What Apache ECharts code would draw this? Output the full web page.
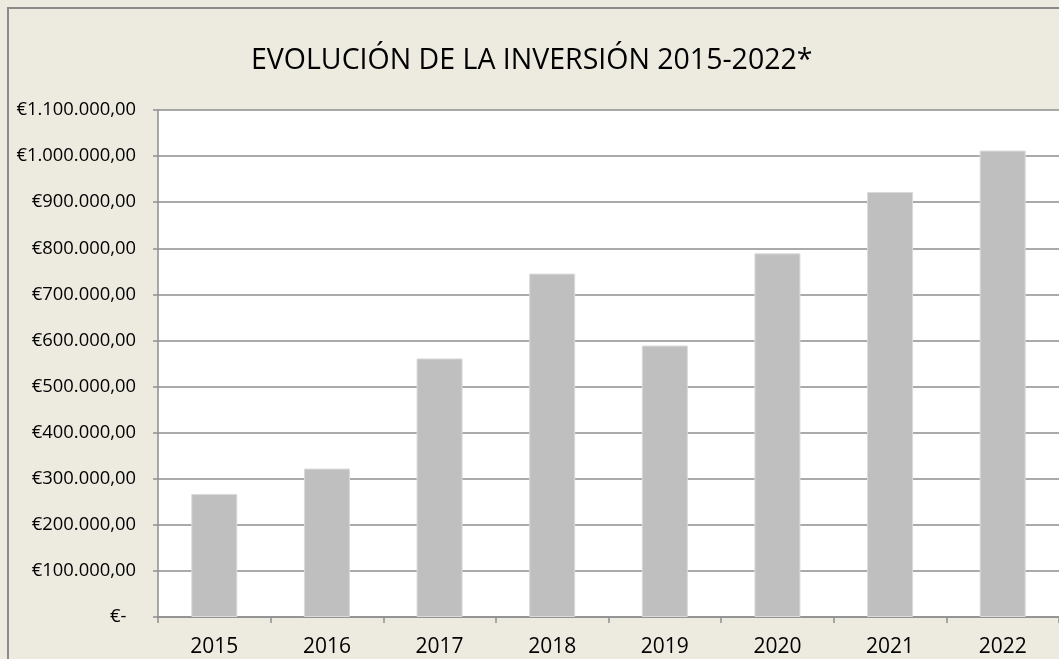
<!DOCTYPE html>
<html>
<head>
<meta charset="utf-8">
<script src="https://cdn.jsdelivr.net/npm/echarts@6/dist/echarts.min.js"></script>
<style>
  html, body { margin: 0; padding: 0; background: #edeae0; }
  #chart { width: 1059px; height: 659px; }
</style>
</head>
<body>
<div id="chart"></div>
<script>
// años y montos de inversión (en euros)
const years = ['2015', '2016', '2017', '2018', '2019', '2020', '2021', '2022']
const investment = [267000, 322000, 561000, 745000, 589000, 789000, 922000, 1012000]

function euro(v) {
  if (v === 0) return '€-  '
  let s = String(v).replace(/\B(?=(\d{3})+(?!\d))/g, '.')
  return '€' + s + ',00'
}

const chart = echarts.init(document.getElementById('chart'))

chart.setOption({
  backgroundColor: '#edeae0',
  animation: false,
  title: {
    text: 'EVOLUCIÓN DE LA INVERSIÓN 2015-2022*',
    left: 246,
    top: 42,
    textStyle: {
      fontFamily: 'Open Sans',
      fontSize: 28.5,
      fontWeight: 'normal',
      color: '#000',
      lineHeight: 28.5,
    },
  },
  graphic: [
    {
      type: 'rect',
      shape: { x: 8, y: 8, width: 1070, height: 670 },
      style: { fill: 'none', stroke: '#8a8a8a', lineWidth: 2 },
      silent: true,
    },
  ],
  grid: {
    left: 158,
    top: 110,
    right: -11,
    bottom: 42,
    show: true,
    backgroundColor: '#fff',
    borderWidth: 0,
  },
  xAxis: {
    type: 'category',
    data: years,
    axisLine: { lineStyle: { color: '#8e8e8e', width: 1.5 } },
    axisTick: { show: true, length: 6, lineStyle: { color: '#8e8e8e', width: 1.5 } },
    axisLabel: {
      fontFamily: 'Open Sans',
      fontSize: 21,
      lineHeight: 21,
      color: '#000',
      margin: 19.5,
    },
  },
  yAxis: {
    type: 'value',
    min: 0,
    max: 1100000,
    interval: 100000,
    axisLine: { show: true, lineStyle: { color: '#8e8e8e', width: 1.5 } },
    axisTick: { show: true, length: 5, lineStyle: { color: '#8e8e8e', width: 1.5 } },
    splitLine: { lineStyle: { color: '#8e8e8e', width: 1.5 } },
    axisLabel: {
      fontFamily: 'Open Sans',
      fontSize: 18.4,
      color: '#000',
      margin: 22,
      formatter: euro,
    },
  },
  series: [
    {
      type: 'bar',
      data: investment,
      barWidth: 46,
      itemStyle: {
        color: '#bfbfbf',
        borderColor: '#dadada',
        borderWidth: 1,
      },
    },
  ],
})
</script>
</body>
</html>
